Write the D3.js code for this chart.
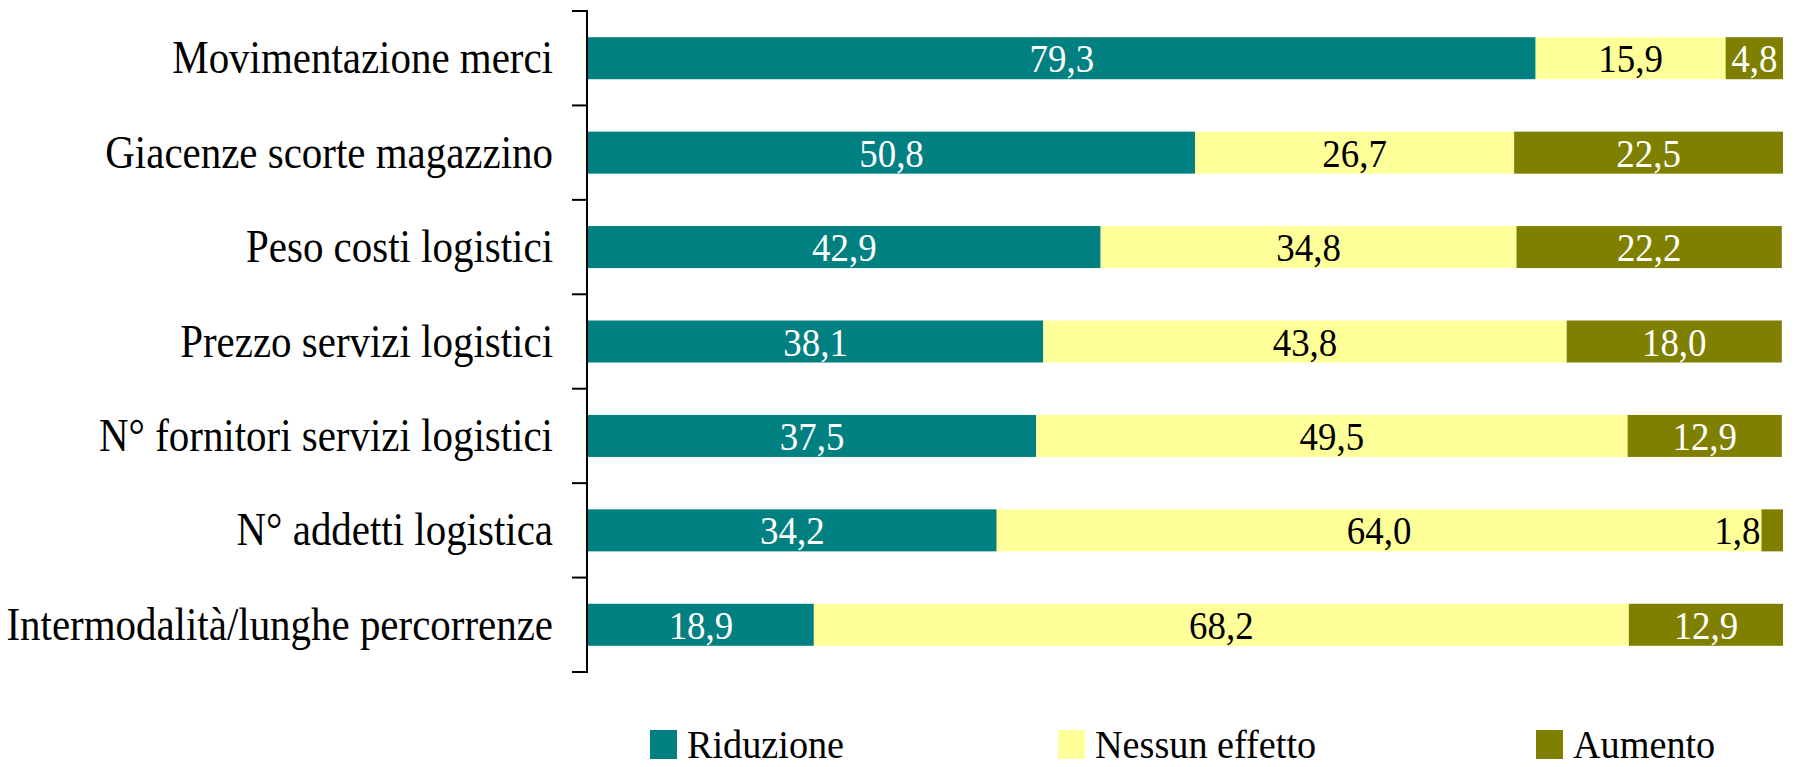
<!DOCTYPE html>
<html>
<head>
<meta charset="utf-8">
<script src="https://cdn.jsdelivr.net/npm/d3@7"></script>
<style>
  html, body { margin: 0; padding: 0; background: #fff; }
  svg { display: block; font-family: "Liberation Serif", "Times New Roman", serif; }
</style>
</head>
<body>
<svg id="chart" width="1796" height="767"></svg>
<script>
// categories top -> bottom
const categories = [
  "Movimentazione merci",
  "Giacenze scorte magazzino",
  "Peso costi logistici",
  "Prezzo servizi logistici",
  "N° fornitori servizi logistici",
  "N° addetti logistica",
  "Intermodalità/lunghe percorrenze"
];
const seriesNames = ["Riduzione", "Nessun effetto", "Aumento"];
const riduzione = [79.3, 50.8, 42.9, 38.1, 37.5, 34.2, 18.9];
const nessunEffetto = [15.9, 26.7, 34.8, 43.8, 49.5, 64.0, 68.2];
const aumento = [4.8, 22.5, 22.2, 18.0, 12.9, 1.8, 12.9];

const colors = ["#008080", "#ffff99", "#808000"];
const labelColors = ["#ffffff", "#000000", "#ffffff"];

const svg = d3.select("#chart");

// --- scales ---------------------------------------------------------
const x = d3.scaleLinear().domain([0, 100]).range([588, 1783]);
const y = d3.scaleBand()
  .domain(categories)
  .range([11, 672])
  .paddingInner(0.555)
  .paddingOuter(0.2775);

// build stacked rows from the arrays
const rows = categories.map((c, i) => ({
  cat: c,
  vals: [riduzione[i], nessunEffetto[i], aumento[i]]
}));
const segments = [];
rows.forEach(r => {
  let acc = 0;
  r.vals.forEach((v, k) => {
    segments.push({ cat: r.cat, k, v, x0: acc, x1: acc + v });
    acc += v;
  });
});

// --- bars -----------------------------------------------------------
svg.append("g")
  .selectAll("rect")
  .data(segments)
  .join("rect")
  .attr("x", d => x(d.x0))
  .attr("y", d => y(d.cat))
  .attr("width", d => x(d.x1) - x(d.x0))
  .attr("height", y.bandwidth())
  .attr("fill", d => colors[d.k]);

// value labels (segments too narrow get the label just left of them, in black)
const fmt = v => v.toFixed(1).replace(".", ",");
const isSmall = d => x(d.x1) - x(d.x0) < 50;
svg.append("g")
  .selectAll("text")
  .data(segments)
  .join("text")
  .attr("transform", d => {
    const tx = isSmall(d) ? x(d.x0) - 1 : (x(d.x0) + x(d.x1)) / 2;
    const ty = y(d.cat) + y.bandwidth() / 2 + 14;
    return `translate(${tx},${ty}) scale(0.9,1)`;
  })
  .attr("text-anchor", d => (isSmall(d) ? "end" : "middle"))
  .attr("font-size", 41)
  .attr("fill", d => (isSmall(d) ? "#000" : labelColors[d.k]))
  .text(d => fmt(d.v));

// --- axis -----------------------------------------------------------
const axisG = svg.append("g");
axisG.append("line")
  .attr("x1", 587).attr("x2", 587)
  .attr("y1", 11).attr("y2", 672)
  .attr("stroke", "#000").attr("stroke-width", 2);

const tickYs = categories.map(c => y(c) - y.step() * y.paddingInner() / 2)
  .concat([672]);
axisG.selectAll("line.tick")
  .data(tickYs)
  .join("line")
  .attr("class", "tick")
  .attr("x1", 572).attr("x2", 588)
  .attr("y1", d => d).attr("y2", d => d)
  .attr("stroke", "#000").attr("stroke-width", 2);

// category labels
svg.append("g")
  .selectAll("text")
  .data(categories)
  .join("text")
  .attr("transform", d => `translate(553,${y(d) + y.bandwidth() / 2 + 15}) scale(0.89,1)`)
  .attr("text-anchor", "end")
  .attr("font-size", 46)
  .attr("fill", "#000")
  .text(d => d);

// --- legend ---------------------------------------------------------
const legendX = [650, 1058, 1536];
const legend = svg.append("g")
  .selectAll("g")
  .data(seriesNames)
  .join("g")
  .attr("transform", (d, i) => `translate(${legendX[i]},730)`);

legend.append("rect")
  .attr("width", 27).attr("height", 29)
  .attr("fill", (d, i) => colors[i]);

legend.append("text")
  .attr("transform", "translate(37,28) scale(0.98,1)")
  .attr("font-size", 39)
  .attr("fill", "#000")
  .text(d => d);
</script>
</body>
</html>
